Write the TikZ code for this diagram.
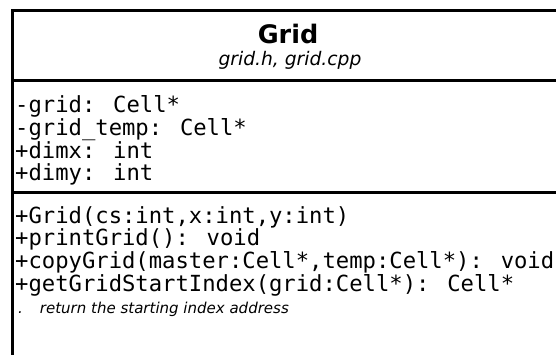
\documentclass[tikz,border=0pt]{standalone}
\usepackage{fontspec}
\setmainfont{DejaVu Sans}
\newfontfamily\umlmono{DejaVu Sans Mono}
\begin{document}
\begin{tikzpicture}[x=1pt,y=1pt,
  frame/.style={line width=3pt},
  divider/.style={line width=3pt},
  classname/.style={anchor=base, inner sep=0pt, font=\bfseries\fontsize{25.5}{29}\selectfont},
  filenames/.style={anchor=base, inner sep=0pt, font=\itshape\fontsize{18.7}{22}\selectfont},
  member/.style={anchor=base west, inner sep=0pt, font=\umlmono\fontsize{22.2}{26}\selectfont},
  remark/.style={anchor=base west, inner sep=0pt, font=\itshape\fontsize{15}{18}\selectfont}]
\useasboundingbox (0,0) rectangle (556,-355);

% class box (continues past the right and bottom edges)
\draw[frame] (12.5,-380) -- (12.5,-10.5) -- (580,-10.5);
\draw[divider] (12.5,-81) -- (580,-81);
\draw[divider] (12.5,-193) -- (580,-193);

% name compartment
\node[classname] (cls) at (288,-44) {Grid};
\node[filenames] (files) at (290,-66) {grid.h, grid.cpp};

% attributes
\node[member] (a1) at (15,-113) {-grid: Cell*};
\node[member] (a2) at (15,-135.6) {-grid\_temp: Cell*};
\node[member] (a3) at (15,-158.2) {+dimx: int};
\node[member] (a4) at (15,-180.8) {+dimy: int};

% operations
\node[member] (m1) at (15,-223) {+Grid(cs:int,x:int,y:int)};
\node[member] (m2) at (15,-245.8) {+printGrid(): void};
\node[member] (m3) at (15,-268.6) {+copyGrid(master:Cell*,temp:Cell*): void};
\node[member] (m4) at (15,-291.4) {+getGridStartIndex(grid:Cell*): Cell*};
\node[remark] (note) at (18,-313) {.\hspace{17pt}return the starting index address};
\end{tikzpicture}
\end{document}
